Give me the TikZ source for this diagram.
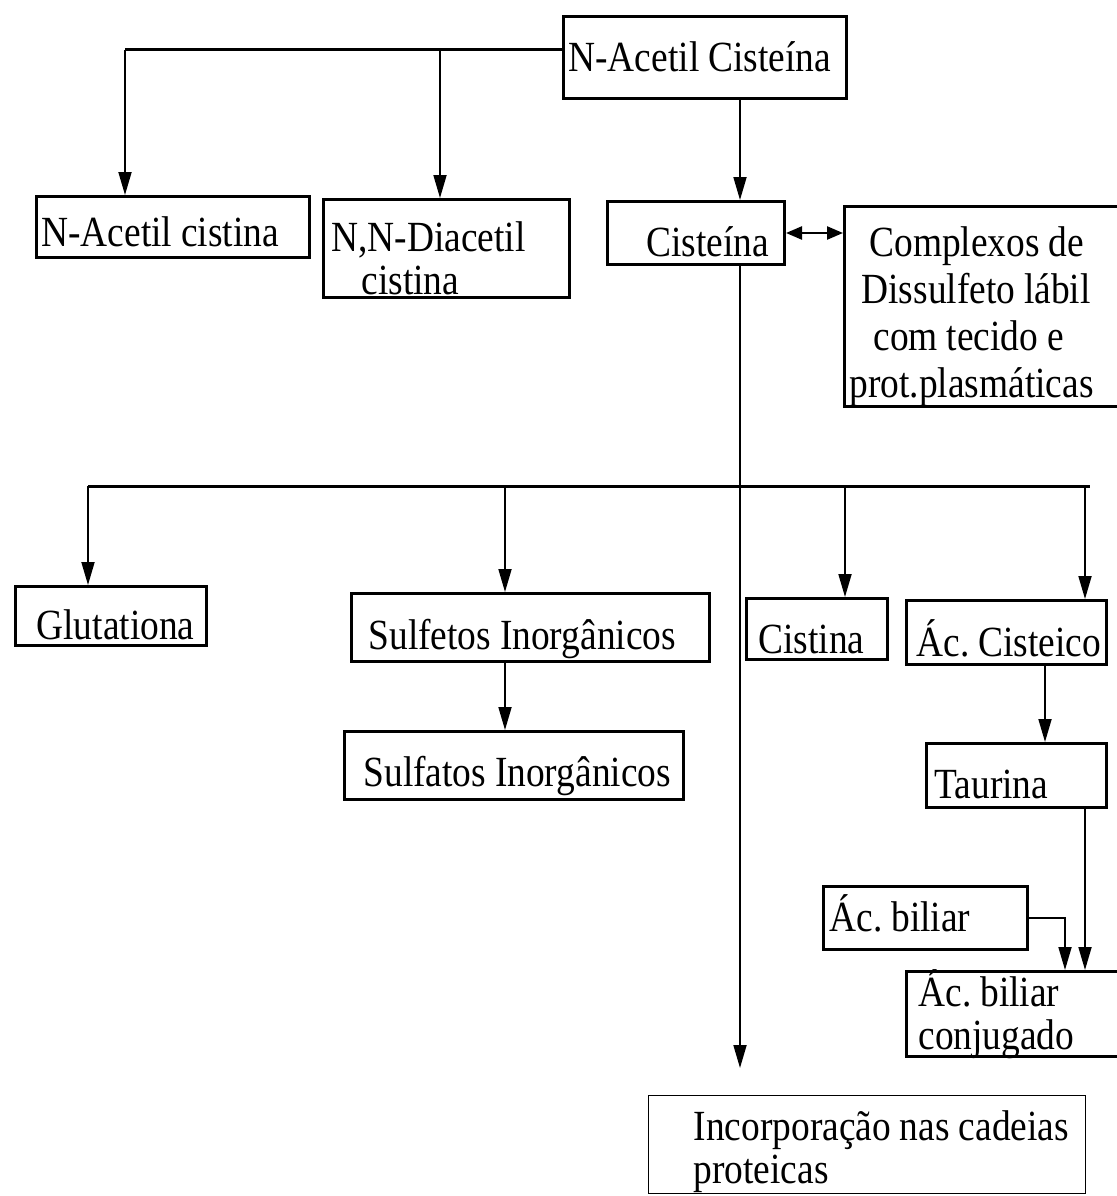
\documentclass[tikz,border=0pt]{standalone}
\usepackage{fontspec}
\setmainfont{Liberation Serif}[FakeStretch=0.87]
\usetikzlibrary{arrows.meta}
\tikzset{
  box/.style={draw, line width=3pt, anchor=north west, inner sep=0pt, align=left,
    font=\fontsize{43}{43}\selectfont,
    execute at begin node={\frenchspacing\spaceskip=9pt plus 2pt minus 2pt\relax}},
  thinbox/.style={box, line width=1.3pt},
  arr/.style={-{Triangle[length=23pt,width=13pt]}, line width=1.8pt},
  darr/.style={{Triangle[length=16pt,width=13pt]}-{Triangle[length=16pt,width=13pt]}, line width=2.4pt},
  branch/.style={line width=3pt}
}
\begin{document}
\begin{tikzpicture}[x=1pt,y=-1pt]
\fill[white] (0,0) rectangle (1116,1196);
\useasboundingbox (0,0) rectangle (1116,1196);

% boxes
\node[box, text width=283pt, text height=55pt, text depth=27pt] (nac) at (562,15) {\mbox{\hspace*{5pt}N-Acetil Cisteína}};
\node[box, text width=273pt, text height=50pt, text depth=11pt] (nacis) at (35,195) {\mbox{\hspace*{5pt}N-Acetil cistina}};
\node[box, text width=246pt, text height=52pt, text depth=46pt] (nndi) at (322,198) {\mbox{\hspace*{8pt}N,N-Diacetil}\\\mbox{\hspace*{38pt}cistina}};
\node[box, text width=177pt, text height=55pt, text depth=8pt] (cis) at (606,200) {\mbox{\hspace*{39pt}Cisteína}};
\node[box, text width=274pt, text height=50pt, text depth=150pt, font=\fontsize{43}{47}\selectfont] (comp) at (843,205)
  {\mbox{\hspace*{25pt}Complexos de}\\\mbox{\hspace*{17pt}Dissulfeto lábil}\\\mbox{\hspace*{29pt}com tecido e}\\\mbox{\hspace*{5pt}prot.plasmáticas}};
\node[box, text width=191pt, text height=53pt, text depth=6pt] (glu) at (14,585) {\mbox{\hspace*{21pt}Glutationa}};
\node[box, text width=358pt, text height=56pt, text depth=12pt] (sulf) at (350,592) {\mbox{\hspace*{17pt}Sulfetos Inorgânicos}};
\node[box, text width=339pt, text height=55pt, text depth=13pt] (sulfa) at (343,730) {\mbox{\hspace*{19pt}Sulfatos Inorgânicos}};
\node[box, text width=141pt, text height=55pt, text depth=6pt] (cist) at (745,597) {\mbox{\hspace*{12pt}Cistina}};
\node[box, text width=200pt, text height=56pt, text depth=8pt] (acis) at (905,599) {\mbox{\hspace*{10pt}Ác. Cisteico}};
\node[box, text width=180pt, text height=55pt, text depth=9pt] (tau) at (925,742) {\mbox{\hspace*{8pt}Taurina}};
\node[box, text width=204pt, text height=45pt, text depth=18pt] (acb) at (822,885) {\mbox{\hspace*{6pt}Ác. biliar}};
\node[box, text width=212pt, text height=35pt, text depth=50pt] (acbc) at (905,970) {\mbox{\hspace*{12pt}Ác. biliar}\\\mbox{\hspace*{12pt}conjugado}};
\node[thinbox, text width=437pt, text height=45pt, text depth=53pt] (inc) at (648,1095) {\mbox{\hspace*{45pt}Incorporação nas cadeias}\\\mbox{\hspace*{45pt}proteicas}};

% coordinates
\coordinate (tA) at (125,50);
\coordinate (tB) at (440,50);
\coordinate (vx) at (740,0);
\coordinate (incA) at (740,1068);
\coordinate (hL) at (88,486);
\coordinate (hR) at (1090,486);
\coordinate (hS) at (505,486);
\coordinate (hC) at (845,486);
\coordinate (hA) at (1085,486);
\coordinate (xT) at (1045,0);
\coordinate (xU) at (1085,0);
\coordinate (xB) at (1065,0);

% connectors
\draw[branch] (nac.west |- tA) -- (tA);
\draw[arr] (tA) -- (tA |- nacis.north);
\draw[arr] (tB) -- (tB |- nndi.north);
\draw[arr] (vx |- nac.south) -- (vx |- cis.north);
\draw[darr] (cis.east) -- (cis.east -| comp.west);
\draw[arr] (vx |- cis.south) -- (incA);
\draw[branch] (hL) -- (hR);
\draw[arr] (hL) -- (hL |- glu.north);
\draw[arr] (hS) -- (hS |- sulf.north);
\draw[arr] (hS |- sulf.south) -- (hS |- sulfa.north);
\draw[arr] (hC) -- (hC |- cist.north);
\draw[arr] (hA) -- (hA |- acis.north);
\draw[arr] (xT |- acis.south) -- (xT |- tau.north);
\draw[arr] (xU |- tau.south) -- (xU |- acbc.north);
\draw[arr] (acb.east) -| (xB |- acbc.north);
\end{tikzpicture}
\end{document}
